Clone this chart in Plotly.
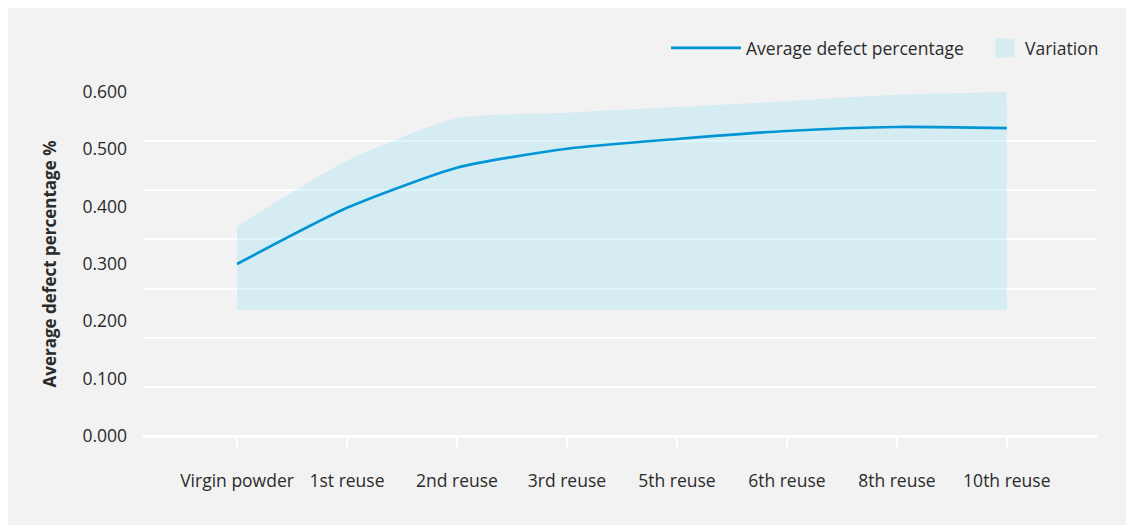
import plotly.graph_objects as go

categories = ["Virgin powder", "1st reuse", "2nd reuse", "3rd reuse",
              "5th reuse", "6th reuse", "8th reuse", "10th reuse"]
average_defect = [0.300, 0.398, 0.468, 0.501, 0.518, 0.532, 0.539, 0.537]
variation_upper = [0.366, 0.480, 0.554, 0.564, 0.574, 0.584, 0.595, 0.600]
variation_lower = [0.220, 0.220, 0.220, 0.220, 0.220, 0.220, 0.220, 0.220]
y_ticks = [0.0, 0.1, 0.2, 0.3, 0.4, 0.5, 0.6]
y_tick_labels = ["0.000", "0.100", "0.200", "0.300", "0.400", "0.500", "0.600"]

FONT = "Open Sans"
TEXT = "#2b2b2b"
LINE = "#0096d6"
BAND = "rgba(149,222,245,0.30)"
BAND_SOLID = "#d6ecf3"
BG = "#f2f2f2"

x_idx = list(range(len(categories)))

fig = go.Figure()
fig.add_trace(go.Scatter(
    x=x_idx, y=variation_lower, mode="lines", line=dict(width=0, color=BAND),
    showlegend=False, hoverinfo="skip",
))
fig.add_trace(go.Scatter(
    x=x_idx, y=variation_upper, mode="none", name="Variation",
    fill="tonexty", fillcolor=BAND, line=dict(shape="spline", smoothing=0.6),
    showlegend=False,
))
fig.add_trace(go.Scatter(
    x=x_idx, y=average_defect, mode="lines", name="Average defect percentage",
    line=dict(color=LINE, width=2.6, shape="spline", smoothing=0.6),
    legend="legend",
))
# legend entry for the variation band (square swatch)
fig.add_trace(go.Scatter(
    x=[None], y=[None], mode="markers", name="Variation",
    marker=dict(symbol="square", size=16, color=BAND_SOLID,
                line=dict(color=BAND_SOLID, width=3)),
    legend="legend2",
))
# invisible trace for the grid axis
fig.add_trace(go.Scatter(x=[None], y=[None], yaxis="y2", showlegend=False))

W, H = 1126, 517
L, R, T, B = 135, 37, 84, 89
ph = H - T - B
pw = W - L - R
leg_y = (428 - 40) / ph

fig.update_layout(
    width=W, height=H,
    margin=dict(l=L, r=R, t=T, b=B, autoexpand=False),
    paper_bgcolor=BG,
    plot_bgcolor="rgba(0,0,0,0)",
    font=dict(family=FONT, size=17.5, color=TEXT),
    showlegend=True,
    legend=dict(orientation="h", x=(961 - L) / pw, xanchor="right", y=leg_y,
                yanchor="middle", bgcolor="rgba(0,0,0,0)",
                font=dict(family=FONT, size=17.5, color=TEXT),
                itemwidth=70),
    legend2=dict(orientation="h", x=(1096 - L) / pw, xanchor="right", y=leg_y,
                 yanchor="middle", bgcolor="rgba(0,0,0,0)",
                 font=dict(family=FONT, size=17.5, color=TEXT),
                 itemwidth=30),
    xaxis=dict(
        range=[-0.855, 7.82], tickmode="array", tickvals=x_idx, ticktext=categories,
        showgrid=False, zeroline=False, showline=False,
        ticks="outside", ticklen=11, tickwidth=2, tickcolor="white",
        ticklabelstandoff=18, tickfont=dict(size=17.5, color=TEXT),
        fixedrange=True,
    ),
    yaxis=dict(
        range=[0, 0.6], tickmode="array", tickvals=y_ticks, ticktext=y_tick_labels,
        showgrid=False, zeroline=False, showline=False,
        ticklabelstandoff=15, tickfont=dict(size=17.5, color=TEXT),
        title=dict(text="<b>Average defect percentage %</b>", standoff=21,
                   font=dict(size=17, color=TEXT)),
        automargin=False,
    ),
    yaxis2=dict(
        overlaying="y", side="left", range=[0, 7], dtick=1, tick0=0,
        showticklabels=False, showgrid=True, gridcolor="white", gridwidth=1.5,
        zeroline=True, zerolinecolor="white", zerolinewidth=3,
        showline=False, ticks="",
    ),
)

fig.write_html("out.html")
